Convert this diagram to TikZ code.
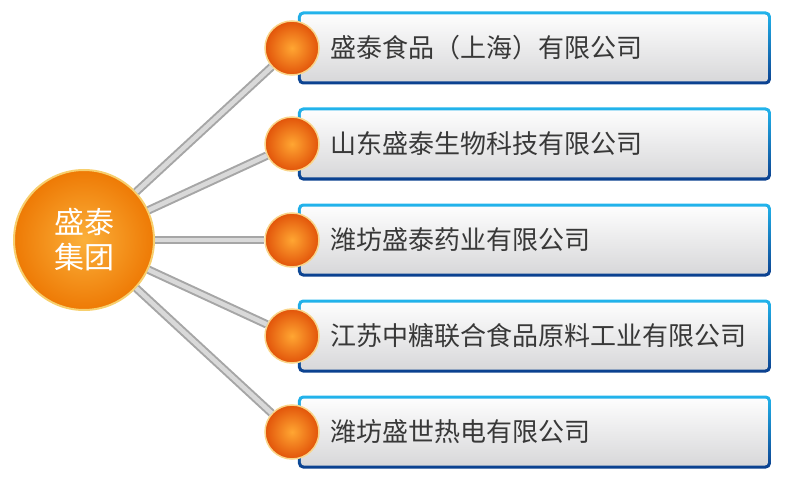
\documentclass[tikz,border=0pt]{standalone}
\usepackage{fontspec}
\setmainfont{Noto Sans CJK SC}
\usetikzlibrary{positioning,backgrounds}
\definecolor{hubinner}{HTML}{FBB03A}
\definecolor{hubouter}{HTML}{EE7A05}
\definecolor{hubrim}{HTML}{F7CF6E}
\definecolor{ballinner}{HTML}{FFA632}
\definecolor{ballouter}{HTML}{E2540A}
\definecolor{ballrim}{HTML}{F9D58A}
\definecolor{boxcyan}{HTML}{22B4EC}
\definecolor{boxnavy}{HTML}{0B3F8E}
\definecolor{boxgrey}{HTML}{D6D6D8}
\definecolor{firmtext}{HTML}{383838}
\begin{document}
\begin{tikzpicture}[x=1pt, y=-1pt,
        grow'=right, level distance=208pt, sibling distance=96pt,
        hub/.style={circle, draw=hubrim, line width=2pt, inner color=hubinner,
            outer color=hubouter, minimum size=140pt, text=white, align=center,
            font=\fontsize{30pt}{35pt}\selectfont},
        ball/.style={circle, draw=ballrim, line width=1.5pt, inner color=ballinner,
            outer color=ballouter, minimum size=54pt},
        edge from parent/.style={draw=gray!70, line width=2pt, double=gray!30,
            double distance=4.5pt},
        firm/.style={rounded corners=5pt, top color=boxcyan, bottom color=boxnavy,
            minimum width=473pt, minimum height=73pt, text width=407pt,
            inner xsep=33pt, text=firmtext, font=\fontsize{26pt}{30pt}\selectfont,
            path picture={\shade[top color=white, bottom color=boxgrey, rounded corners=3pt]
                ([shift={(3pt,-3pt)}]path picture bounding box.north west) rectangle
                ([shift={(-3pt,3pt)}]path picture bounding box.south east);}}]
    \useasboundingbox (0,0) rectangle (798,500);
    \node[hub] (group) at (84,240) {盛泰\\集团}
        child { node[ball] (b1) {} }
        child { node[ball] (b2) {} }
        child { node[ball] (b3) {} }
        child { node[ball] (b4) {} }
        child { node[ball] (b5) {} };
    \begin{scope}[on background layer]
        \node[firm, right=-22pt of b1] (f1) {盛泰食品（上海）有限公司};
        \node[firm, right=-22pt of b2] (f2) {山东盛泰生物科技有限公司};
        \node[firm, right=-22pt of b3] (f3) {潍坊盛泰药业有限公司};
        \node[firm, right=-22pt of b4] (f4) {江苏中糖联合食品原料工业有限公司};
        \node[firm, right=-22pt of b5] (f5) {潍坊盛世热电有限公司};
    \end{scope}
\end{tikzpicture}
\end{document}
